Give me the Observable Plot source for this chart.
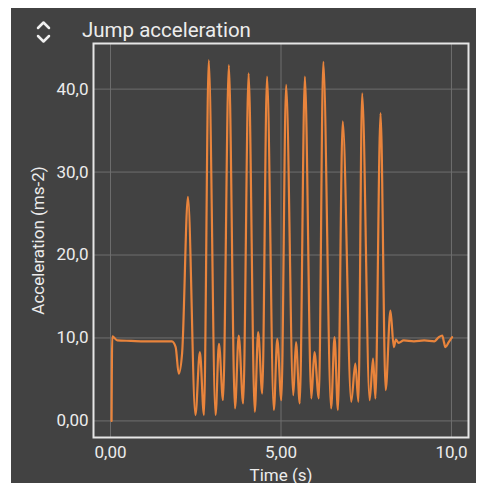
<!DOCTYPE html>
<html>
<head>
<meta charset="utf-8">
<script src="https://cdn.jsdelivr.net/npm/d3@7"></script>
<script src="https://cdn.jsdelivr.net/npm/@observablehq/plot@0.6"></script>
<style>
  html, body { margin: 0; padding: 0; background: #ffffff; width: 477px; height: 483px; overflow: hidden; }
  #panel { position: absolute; left: 11px; top: 8px; width: 465px; height: 475px; background: #424242; }
  #title { position: absolute; left: 71px; top: 11.5px; font-family: Roboto, sans-serif; font-size: 20.5px; line-height: 20.5px; color: #ececec; white-space: nowrap; }
  #icon { position: absolute; left: 24px; top: 12px; }
  #chart { position: absolute; left: 0px; top: 32px; }
</style>
</head>
<body>
<div id="panel">
  <svg id="icon" width="20" height="24" viewBox="0 0 20 24">
    <path d="M3,8 L8.5,2.5 L14,8" fill="none" stroke="#f0f0f0" stroke-width="2.5" stroke-linecap="round" stroke-linejoin="round"/>
    <path d="M3,16 L8.5,21.5 L14,16" fill="none" stroke="#f0f0f0" stroke-width="2.5" stroke-linecap="round" stroke-linejoin="round"/>
  </svg>
  <div id="title">Jump acceleration</div>
  <div id="chart"></div>
</div>
<script>
// Time (s)
const time = [
  0.03, 0.05, 0.2, 0.6, 1.0, 1.4, 1.8, 1.91, 2.0, 2.1,
  2.27, 2.49, 2.62, 2.74, 2.88, 3.08, 3.18, 3.30, 3.47, 3.65,
  3.76, 3.89, 4.05, 4.23, 4.33, 4.45, 4.59, 4.79, 4.89, 5.01,
  5.15, 5.36, 5.44, 5.55, 5.70, 5.89, 5.98, 6.11, 6.24, 6.47,
  6.57, 6.67, 6.81, 7.06, 7.18, 7.27, 7.38, 7.60, 7.70, 7.77,
  7.92, 8.07, 8.21, 8.31, 8.37, 8.45, 8.6, 8.9, 9.2, 9.5,
  9.63, 9.73, 9.78, 9.82, 9.92, 10.02
];
// Acceleration (ms-2)
const accel = [
  0.0, 10.2, 9.7, 9.65, 9.6, 9.6, 9.6, 8.9, 5.7, 8.2,
  27.0, 0.7, 8.3, 0.7, 43.5, 0.7, 9.3, 2.5, 42.9, 1.5,
  10.3, 2.1, 41.9, 1.1, 10.7, 3.3, 41.5, 1.3, 9.9, 2.5,
  40.5, 3.1, 9.5, 2.1, 41.5, 2.7, 8.3, 2.7, 43.3, 1.5,
  10.1, 1.3, 36.1, 2.3, 6.9, 2.3, 39.5, 2.5, 7.5, 2.7,
  37.1, 3.7, 13.3, 8.9, 9.8, 9.4, 9.7, 9.6, 9.7, 9.6,
  10.1, 10.3, 9.5, 8.9, 9.5, 10.1
];
const xTicks = [0, 5, 10];
const xTickLabels = ["0,00", "5,00", "10,0"];
const yTicks = [0, 10, 20, 30, 40];
const yTickLabels = ["0,00", "10,0", "20,0", "30,0", "40,0"];

const data = time.map((t, i) => ({t, a: accel[i]}));

const chart = Plot.plot({
  width: 465,
  height: 443,
  marginLeft: 82,
  marginRight: 8,
  marginTop: 3,
  marginBottom: 46,
  style: {background: "transparent", color: "#ececec", fontFamily: "Roboto, sans-serif", fontSize: "17px"},
  x: {
    domain: [-0.5, 10.5],
    ticks: xTicks,
    tickFormat: (d) => xTickLabels[xTicks.indexOf(d)],
    tickSize: 0,
    tickPadding: 8,
    label: "Time (s)",
    labelAnchor: "center",
    labelOffset: 43,
    labelArrow: "none"
  },
  y: {
    domain: [-2, 45.5],
    ticks: yTicks,
    tickFormat: (d) => yTickLabels[yTicks.indexOf(d)],
    tickSize: 0,
    tickPadding: 5,
    label: "Acceleration (ms-2)",
    labelAnchor: "center",
    labelOffset: 62,
    labelArrow: "none"
  },
  marks: [
    Plot.gridX(xTicks, {stroke: "#6e6e6e", strokeOpacity: 1, strokeWidth: 1}),
    Plot.gridY(yTicks, {stroke: "#6e6e6e", strokeOpacity: 1, strokeWidth: 1}),
    Plot.line(data, {x: "t", y: "a", stroke: "#e9843c", strokeWidth: 2.2, curve: "monotone-x"}),
    Plot.frame({stroke: "#e6e6e6", strokeWidth: 2})
  ]
});
document.getElementById("chart").appendChild(chart);
</script>
</body>
</html>
